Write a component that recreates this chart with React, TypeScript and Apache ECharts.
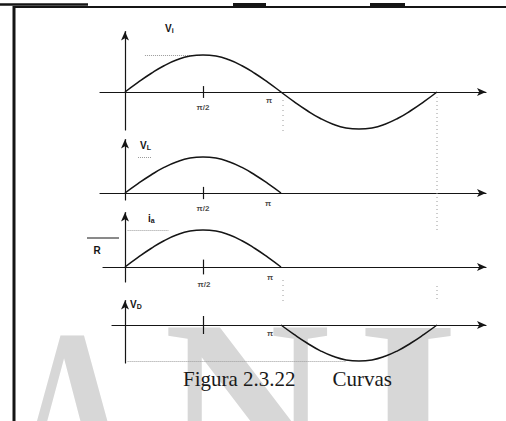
import React, { useEffect, useRef } from "react";
import * as echarts from "echarts";

// ---- data (angle in degrees, normalised amplitude) ----
const fullAngles = [0, 15, 30, 45, 60, 75, 90, 105, 120, 135, 150, 165, 180, 195, 210, 225, 240, 255, 270, 285, 300, 315, 330, 345, 360];
const viValues = [0, 0.26, 0.5, 0.71, 0.87, 0.97, 1, 0.97, 0.87, 0.71, 0.5, 0.26, 0, -0.26, -0.5, -0.71, -0.87, -0.97, -1, -0.97, -0.87, -0.71, -0.5, -0.26, 0];
const halfAngles = [0, 15, 30, 45, 60, 75, 90, 105, 120, 135, 150, 165, 180];
const vlValues = [0, 0.26, 0.5, 0.71, 0.87, 0.97, 1, 0.97, 0.87, 0.71, 0.5, 0.26, 0];
const iaValues = [0, 0.26, 0.5, 0.71, 0.87, 0.97, 1, 0.97, 0.87, 0.71, 0.5, 0.26, 0];
const vdAngles = [180, 195, 210, 225, 240, 255, 270, 285, 300, 315, 330, 345, 360];
const vdValues = [0, -0.26, -0.5, -0.71, -0.87, -0.97, -1, -0.97, -0.87, -0.71, -0.5, -0.26, 0];
const tickAngle = 90;
const halfPiLabel = "π/2";
const piLabel = "π";
const piAngle = 180;
const periodEnd = 360;
const yNames = [
  { main: "V", sub: "i" },
  { main: "V", sub: "L" },
  { main: "i", sub: "a" },
  { main: "V", sub: "D" },
];
const captionLeft = "Figura 2.3.22";
const captionRight = "Curvas";
const watermark = ["A", "N", "I"];

// ---- layout ----
const X0 = 125; // pixel of angle 0
const PXD = 156 / 180; // pixels per degree
const panels = [
  { axisY: 92, amp: 37, yTop: 31.5, yBot: 130, xL: 100, xR: 486 },
  { axisY: 193, amp: 36, yTop: 139.5, yBot: 200, xL: 100, xR: 486 },
  { axisY: 267, amp: 37, yTop: 212.5, yBot: 282, xL: 103, xR: 486 },
  { axisY: 325, amp: 36, yTop: 300.5, yBot: 363, xL: 112, xR: 486 },
];

const INK = "#151515";
const DOT = "#9a9a9a";

function zip(a: number[], b: number[]) {
  return a.map((v, i) => [v, b[i]]);
}

export default function App() {
  const ref = useRef<HTMLDivElement>(null);
  useEffect(() => {
    if (!ref.current) return;
    const chart = echarts.init(ref.current, null, { renderer: "svg" });

    const grids = panels.map((p) => ({
      left: p.xL,
      top: p.yTop,
      width: p.xR - p.xL,
      height: p.yBot - p.yTop,
    }));
    const axisLine = (sym: string[]) => ({
      show: true,
      onZero: true,
      symbol: sym,
      symbolSize: [6, 9],
      lineStyle: { color: INK, width: 1.2 },
    });
    const xAxes = panels.map((p, i) => ({
      type: "value",
      gridIndex: i,
      min: (p.xL - X0) / PXD,
      max: (p.xR - X0) / PXD,
      axisLine: axisLine(["none", "arrow"]),
      axisTick: { show: false },
      axisLabel: { show: false },
      splitLine: { show: false },
    }));
    const yAxes = panels.map((p, i) => ({
      type: "value",
      gridIndex: i,
      min: -(p.yBot - p.axisY) / p.amp,
      max: (p.axisY - p.yTop) / p.amp,
      axisLine: axisLine(["none", "arrow"]),
      axisTick: { show: false },
      axisLabel: { show: false },
      splitLine: { show: false },
    }));

    const tick = (h: number) => [
      { coord: [tickAngle, -h], lineStyle: { type: "solid", color: INK, width: 1.2 } },
      { coord: [tickAngle, h] },
    ];
    const dotted = (a: number[], b: number[]) => [
      { coord: a, lineStyle: { type: "dotted", color: DOT, width: 1 } },
      { coord: b },
    ];
    const markLine = (data: any[]) => ({
      silent: true,
      symbol: "none",
      label: { show: false },
      data,
    });

    const curve = (i: number, data: number[][], ml: any[]) => ({
      type: "line",
      xAxisIndex: i,
      yAxisIndex: i,
      data,
      smooth: true,
      showSymbol: false,
      clip: false,
      lineStyle: { color: INK, width: 1.5 },
      markLine: markLine(ml),
      z: 5,
    });

    const labelSeries = (i: number, items: { at: number; text: string; off: number[] }[]) => ({
      type: "scatter",
      xAxisIndex: i,
      yAxisIndex: i,
      symbolSize: 1,
      itemStyle: { color: "rgba(0,0,0,0)" },
      silent: true,
      data: items.map((it) => ({
        value: [it.at, 0],
        label: {
          show: true,
          position: "inside",
          offset: it.off,
          formatter: it.text,
          fontSize: 8,
          fontWeight: "bold",
          fontFamily: "Liberation Sans",
          color: INK,
        },
      })),
      z: 6,
    });

    const series = [
      curve(0, zip(fullAngles, viValues), [tick(0.16), dotted([23, 1], [87, 1])]),
      curve(1, zip(halfAngles, vlValues), [tick(0.17), dotted([15, 1], [30, 1])]),
      curve(2, zip(halfAngles, iaValues), [tick(0.2), dotted([3, 1], [50, 1])]),
      curve(3, zip(vdAngles, vdValues), [tick(0.25), dotted([3, -1], [255, -1])]),
      labelSeries(0, [
        { at: tickAngle, text: halfPiLabel, off: [0, 15] },
        { at: piAngle, text: piLabel, off: [-12, 8] },
      ]),
      labelSeries(1, [
        { at: tickAngle, text: halfPiLabel, off: [0, 15] },
        { at: piAngle, text: piLabel, off: [-13, 10] },
      ]),
      labelSeries(2, [
        { at: tickAngle, text: halfPiLabel, off: [1, 17] },
        { at: piAngle, text: piLabel, off: [-11, 10] },
      ]),
      labelSeries(3, [{ at: piAngle, text: piLabel, off: [-11, 8] }]),
    ];

    const nameText = (x: number, y: number, n: { main: string; sub: string }) => ({
      type: "text",
      x,
      y,
      z: 20,
      style: {
        text: `{m|${n.main}}{s|${n.sub}}`,
        verticalAlign: "middle",
        fill: INK,
        fontFamily: "Liberation Sans",
        fontWeight: "bold",
        rich: {
          m: { fontSize: 10, fontWeight: "bold", fontFamily: "Liberation Sans", fill: INK, color: INK },
          s: { fontSize: 7, fontWeight: "bold", fontFamily: "Liberation Sans", fill: INK, color: INK, padding: [4, 0, 0, 0] },
        },
      },
    });

    chart.setOption({
      animation: false,
      backgroundColor: "#ffffff",
      grid: grids,
      xAxis: xAxes,
      yAxis: yAxes,
      series,
    });

    // dotted guides that cross panels, placed through the axes' scales
    const p360a = chart.convertToPixel({ xAxisIndex: 0, yAxisIndex: 0 } as any, [periodEnd, 0]) as number[];
    const p180a = chart.convertToPixel({ xAxisIndex: 0, yAxisIndex: 0 } as any, [piAngle, 0]) as number[];

    const wmStyle = (t: string, size: number) => ({
      text: t,
      fontSize: size,
      fontFamily: "Liberation Serif",
      fontWeight: "bold",
      fill: "#d7d7d7",
      verticalAlign: "middle",
      align: "center",
    });
    const capStyle = (t: string, align: string) => ({
      text: t,
      fontSize: 21,
      fontFamily: "Liberation Serif",
      fill: "#1a1a1a",
      verticalAlign: "middle",
      align,
    });

    chart.setOption({
      graphic: [
        // watermark
        { type: "text", x: 72, y: 409, scaleX: 0.72, z: -5, style: wmStyle(watermark[0], 230) },
        { type: "text", x: 247, y: 401, z: -5, style: wmStyle(watermark[1], 230) },
        { type: "text", x: 408, y: 401, scaleX: 1.15, z: -5, style: wmStyle(watermark[2], 230) },
        // frame
        { type: "line", z: 20, shape: { x1: 14, y1: 6, x2: 14, y2: 421 }, style: { stroke: INK, lineWidth: 3 } },
        { type: "line", z: 20, shape: { x1: 14, y1: 7, x2: 506, y2: 7 }, style: { stroke: INK, lineWidth: 2 } },
        { type: "line", z: 20, shape: { x1: 0, y1: 4.5, x2: 88, y2: 4.5 }, style: { stroke: INK, lineWidth: 2.5 } },
        { type: "line", z: 20, shape: { x1: 233, y1: 4.5, x2: 266, y2: 4.5 }, style: { stroke: INK, lineWidth: 3 } },
        { type: "line", z: 20, shape: { x1: 370, y1: 4.5, x2: 405, y2: 4.5 }, style: { stroke: INK, lineWidth: 3 } },
        // cross-panel dotted guides
        { type: "line", z: 1, shape: { x1: p360a[0], y1: 97, x2: p360a[0], y2: 232 }, style: { stroke: DOT, lineWidth: 1, lineDash: [1, 3] } },
        { type: "line", z: 1, shape: { x1: p360a[0], y1: 286, x2: p360a[0], y2: 300 }, style: { stroke: DOT, lineWidth: 1, lineDash: [1, 3] } },
        { type: "line", z: 1, shape: { x1: p180a[0] + 2, y1: 100, x2: p180a[0] + 2, y2: 135 }, style: { stroke: DOT, lineWidth: 1, lineDash: [1, 4] } },
        { type: "line", z: 1, shape: { x1: p180a[0] + 2, y1: 280, x2: p180a[0] + 2, y2: 302 }, style: { stroke: DOT, lineWidth: 1, lineDash: [1, 4] } },
        // axis names
        nameText(165, 28, yNames[0]),
        nameText(140, 145, yNames[1]),
        nameText(148, 218, yNames[2]),
        nameText(130, 304, yNames[3]),
        // Vm/R fraction remnant
        { type: "line", z: 20, shape: { x1: 87, y1: 238, x2: 119, y2: 238 }, style: { stroke: INK, lineWidth: 1 } },
        {
          type: "text", x: 97, y: 250, z: 20,
          style: { text: "R", fontSize: 10, fontWeight: "bold", fontFamily: "Liberation Sans", fill: INK, align: "center", verticalAlign: "middle" },
        },
        // caption
        { type: "text", x: 183, y: 379, z: 20, style: capStyle(captionLeft, "left") },
        { type: "text", x: 392, y: 379, z: 20, style: capStyle(captionRight, "right") },
      ],
    });

    return () => chart.dispose();
  }, []);

  return (
    <div
      ref={ref}
      style={{ position: "fixed", left: 0, top: 0, width: 506, height: 421, background: "#fff" }}
    />
  );
}
